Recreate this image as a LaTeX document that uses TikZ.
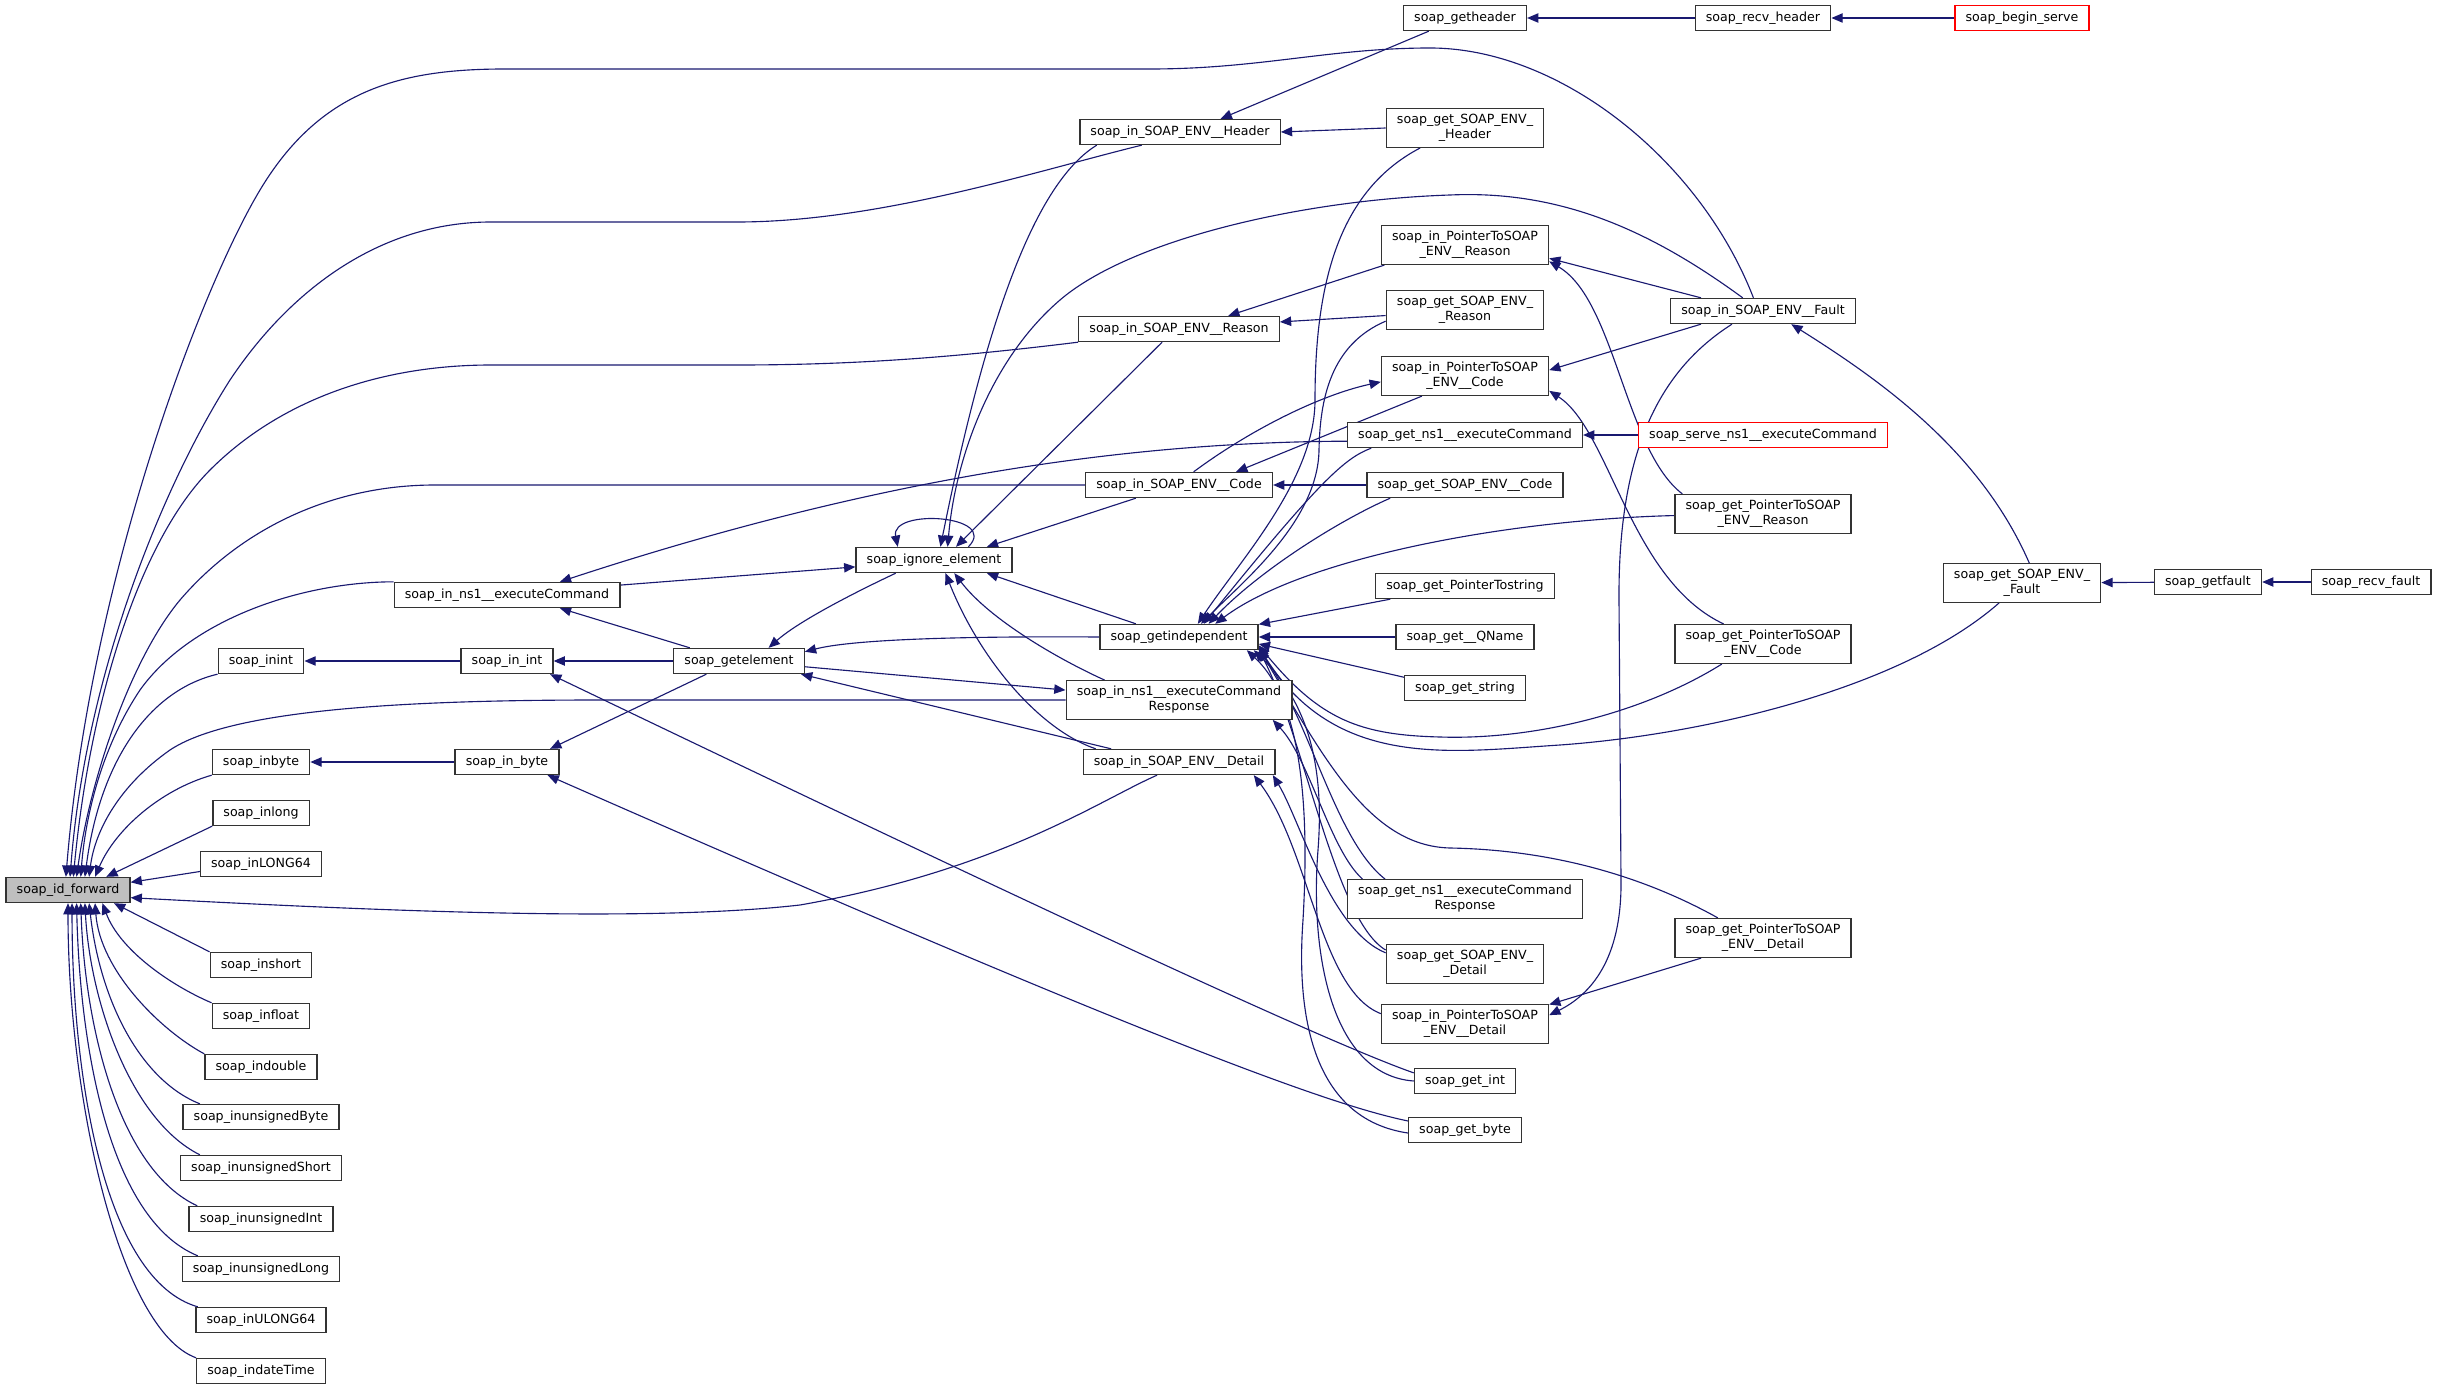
\documentclass[tikz,border=0pt]{standalone}
\usepackage{fontspec}
\setmainfont{DejaVu Sans}
\usepackage{xcolor}
\usepackage{tikz}
\usetikzlibrary{arrows.meta,backgrounds}

\definecolor{edgeblue}{HTML}{191970}
\definecolor{rootgray}{HTML}{BFBFBF}
\definecolor{extred}{HTML}{FF0000}

\begin{document}
\begin{tikzpicture}[x=0.8pt, y=-0.8pt,
  fn/.style={draw=black!80, line width=1.1pt, fill=white, inner xsep=8.5pt,
    inner ysep=4.5pt, minimum height=20pt, align=center,
    font=\fontsize{10.1}{12}\selectfont},
  fnroot/.style={fn, fill=rootgray},
  fnext/.style={fn, draw=extred},
  call/.style={draw=edgeblue, line width=0.9pt, -{Triangle[length=9pt,width=7.5pt]}}]
% Coordinate model: pixels of the graph, x to the right, y downwards.
\useasboundingbox (0,0) rectangle (2439,1389);

% --- Root and its direct callers ---
\node[fnroot] (idfwd) at (68,890) {soap\_id\_forward};
\node[fn] (inint) at (261,661) {soap\_inint};
\node[fn] (inbyte) at (261,762) {soap\_inbyte};
\node[fn] (inlong) at (261,813) {soap\_inlong};
\node[fn] (inLONG64) at (261,864) {soap\_inLONG64};
\node[fn] (inshort) at (261,965) {soap\_inshort};
\node[fn] (infloat) at (261,1016) {soap\_infloat};
\node[fn] (indouble) at (261,1067) {soap\_indouble};
\node[fn] (inuByte) at (261,1117) {soap\_inunsignedByte};
\node[fn] (inuShort) at (261,1168) {soap\_inunsignedShort};
\node[fn] (inuInt) at (261,1219) {soap\_inunsignedInt};
\node[fn] (inuLong) at (261,1269) {soap\_inunsignedLong};
\node[fn] (inULONG64) at (261,1320) {soap\_inULONG64};
\node[fn] (indateTime) at (261,1371) {soap\_indateTime};

% --- Second and third rank ---
\node[fn] (inns1) at (507,595) {soap\_in\_ns1\_\_executeCommand};
\node[fn] (inintB) at (507,661) {soap\_in\_int};
\node[fn] (inbyteB) at (507,762) {soap\_in\_byte};
\node[fn] (getelem) at (739,661) {soap\_getelement};
\node[fn] (ignore) at (934,560) {soap\_ignore\_element};

% --- soap_in_* column ---
\node[fn] (inHeader) at (1180,132) {soap\_in\_SOAP\_ENV\_\_Header};
\node[fn] (inReason) at (1179,329) {soap\_in\_SOAP\_ENV\_\_Reason};
\node[fn] (inCode) at (1179,485) {soap\_in\_SOAP\_ENV\_\_Code};
\node[fn] (getindep) at (1179,637) {soap\_getindependent};
\node[fn] (inResp) at (1179,700) {soap\_in\_ns1\_\_executeCommand\\Response};
\node[fn] (inDetail) at (1179,762) {soap\_in\_SOAP\_ENV\_\_Detail};

% --- soap_get_* column ---
\node[fn] (getheader) at (1465,18) {soap\_getheader};
\node[fn] (getHeader) at (1465,128) {soap\_get\_SOAP\_ENV\_\\\_Header};
\node[fn] (inPtrReason) at (1465,245) {soap\_in\_PointerToSOAP\\\_ENV\_\_Reason};
\node[fn] (getReason) at (1465,310) {soap\_get\_SOAP\_ENV\_\\\_Reason};
\node[fn] (inPtrCode) at (1465,376) {soap\_in\_PointerToSOAP\\\_ENV\_\_Code};
\node[fn] (getns1) at (1465,435) {soap\_get\_ns1\_\_executeCommand};
\node[fn] (getCode) at (1465,485) {soap\_get\_SOAP\_ENV\_\_Code};
\node[fn] (getPtrStr) at (1465,586) {soap\_get\_PointerTostring};
\node[fn] (getQName) at (1465,637) {soap\_get\_\_QName};
\node[fn] (getstring) at (1465,688) {soap\_get\_string};
\node[fn] (getResp) at (1465,899) {soap\_get\_ns1\_\_executeCommand\\Response};
\node[fn] (getDetail) at (1465,964) {soap\_get\_SOAP\_ENV\_\\\_Detail};
\node[fn] (inPtrDetail) at (1465,1024) {soap\_in\_PointerToSOAP\\\_ENV\_\_Detail};
\node[fn] (getint) at (1465,1081) {soap\_get\_int};
\node[fn] (getbyte) at (1465,1130) {soap\_get\_byte};

% --- right part ---
\node[fn] (recvheader) at (1763,18) {soap\_recv\_header};
\node[fn] (inFault) at (1763,311) {soap\_in\_SOAP\_ENV\_\_Fault};
\node[fnext] (serve) at (1763,435) {soap\_serve\_ns1\_\_executeCommand};
\node[fn] (getPtrReason) at (1763,514) {soap\_get\_PointerToSOAP\\\_ENV\_\_Reason};
\node[fn] (getPtrCode) at (1763,644) {soap\_get\_PointerToSOAP\\\_ENV\_\_Code};
\node[fn] (getPtrDetail) at (1763,938) {soap\_get\_PointerToSOAP\\\_ENV\_\_Detail};
\node[fnext] (beginserve) at (2022,18) {soap\_begin\_serve};
\node[fn] (getFault) at (2022,583) {soap\_get\_SOAP\_ENV\_\\\_Fault};
\node[fn] (getfault) at (2208,582) {soap\_getfault};
\node[fn] (recvfault) at (2371,582) {soap\_recv\_fault};

\begin{scope}[on background layer]
% --- Calls into soap_id_forward, from above ---
\draw[call] (inFault.126) .. controls (1700,160) and (1560,48) .. (1430,48)
  .. controls (1330,48) and (1260,69) .. (1150,69) -- (505,69)
  .. controls (400,69) and (320,90) .. (260,190)
  .. controls (200,290) and (90,580) .. (idfwd.99);
\draw[call] (inHeader.199) .. controls (1040,170) and (880,222) .. (737,222) -- (491,222)
  .. controls (380,222) and (290,290) .. (230,380)
  .. controls (160,490) and (85,680) .. (idfwd.81);
\draw[call] (inReason.south west) .. controls (950,358) and (850,365) .. (737,365) -- (491,365)
  .. controls (380,365) and (280,400) .. (210,470)
  .. controls (140,540) and (90,700) .. (idfwd.68);
\draw[call] (inCode.west) -- (435,485) .. controls (330,485) and (240,530) .. (180,600)
  .. controls (130,660) and (90,780) .. (idfwd.57);
\draw[call] (inns1.north west) .. controls (300,582) and (190,620) .. (140,690)
  .. controls (100,750) and (85,820) .. (idfwd.46);
\draw[call] (inint.south west) .. controls (150,690) and (100,760) .. (idfwd.38);
\draw[call] (inResp.west) -- (600,700) .. controls (400,700) and (230,710) .. (170,750)
  .. controls (120,785) and (95,830) .. (idfwd.32);
\draw[call] (inbyte.south west) .. controls (160,790) and (115,830) .. (idfwd.26);
\draw[call] (inlong.south west) -- (idfwd.19);
\draw[call] (inLONG64.187) -- (idfwd.7);
\draw[call] (inDetail.211) .. controls (1100,800) and (1000,870) .. (800,905)
  .. controls (650,922) and (400,912) .. (idfwd.353);

% --- Calls into soap_id_forward, from below ---
\draw[call] (inshort.north west) -- (idfwd.344);
\draw[call] (infloat.north west) .. controls (170,985) and (120,950) .. (idfwd.339);
\draw[call] (indouble.north west) .. controls (160,1030) and (100,970) .. (idfwd.334);
\draw[call] ([xshift=14pt]inuByte.north west) .. controls (140,1080) and (100,1000) .. (idfwd.328);
\draw[call] ([xshift=16pt]inuShort.north west) .. controls (130,1120) and (90,1000) .. (idfwd.322);
\draw[call] ([xshift=7pt]inuInt.north west) .. controls (120,1170) and (85,1030) .. (idfwd.314);
\draw[call] ([xshift=13pt]inuLong.north west) .. controls (110,1220) and (80,1050) .. (idfwd.303);
\draw[call] ([xshift=2pt]inULONG64.north west) .. controls (105,1280) and (72,1080) .. (idfwd.287);
\draw[call] (indateTime.north west) .. controls (120,1330) and (68,1100) .. (idfwd.270);

% --- soap_in_int, soap_in_byte, soap_getelement ---
\draw[call] (inintB) -- (inint);
\draw[call] (inbyteB) -- (inbyte);
\draw[call] (getelem) -- (inintB);
\draw[call] (getelem.165) -- (inns1.346);
\draw[call] (getelem.202) -- (inbyteB.17);
\draw[call] (getelem.355) -- (inResp.175);
\draw[call] (getint.171) .. controls (1320,1040) and (1000,890) .. (inintB.343);
\draw[call] (getbyte.171) .. controls (1330,1105) and (1150,1040) .. (inbyteB.342);

% --- soap_ignore_element ---
\draw[call] (inns1.5) -- (ignore.185);
\draw[call] (ignore.21) .. controls (1000,515) and (890,508) .. (ignore.160);
\draw[call] (inHeader.189) .. controls (1040,180) and (990,300) .. (ignore.64);
\draw[call] (inFault.147) .. controls (1650,230) and (1560,190) .. (1450,195)
  .. controls (1300,200) and (1130,240) .. (1060,300)
  .. controls (990,360) and (955,460) .. (ignore.44);
\draw[call] (inReason.218) -- (ignore.31);
\draw[call] (inCode.197) -- (ignore.14);
\draw[call] (getindep.163) -- (ignore.346);
\draw[call] (inResp.165) .. controls (1060,660) and (990,620) .. (ignore.327);
\draw[call] (inDetail.171) .. controls (1040,730) and (980,660) .. (ignore.311);

% --- callers of soap_getelement ---
\draw[call] (ignore.199) .. controls (860,590) and (800,620) .. (getelem.24);
\draw[call] (getindep.west) .. controls (950,636) and (850,640) .. (getelem.8);
\draw[call] (inDetail.169) -- (getelem.348);

% --- Header chain ---
\draw[call] (getheader.200) -- (inHeader.18);
\draw[call] (getHeader.west) -- (inHeader.east);
\draw[call] (recvheader) -- (getheader);
\draw[call] (beginserve) -- (recvheader);

% --- Reason and Code ---
\draw[call] (inPtrReason.194) -- (inReason.15);
\draw[call] (getReason.184) -- (inReason.4);
\draw[call] (inFault.168) -- (inPtrReason.351);
\draw[call] (getPtrReason.166) .. controls (1625,450) and (1615,300) .. (inPtrReason.349);
\draw[call] (inPtrCode.205) -- (inCode.13);
\draw[call] (inCode.42) .. controls (1250,430) and (1320,395) .. (inPtrCode.184);
\draw[call] (getCode) -- (inCode);
\draw[call] (inFault.192) -- (inPtrCode.4);
\draw[call] (getPtrCode.153) .. controls (1630,580) and (1610,430) .. (inPtrCode.350);

% --- executeCommand, Fault, Detail ---
\draw[call] (getns1.183) .. controls (1150,442) and (900,470) .. (inns1.14);
\draw[call] (serve) -- (getns1);
\draw[call] (getFault.70) .. controls (1980,450) and (1880,380) .. (inFault.335);
\draw[call] (getfault) -- (getFault);
\draw[call] (recvfault) -- (getfault);
\draw[call] (getPtrDetail.198) -- (inPtrDetail.13);
\draw[call] (inFault.203) .. controls (1660,370) and (1618,450) .. (1619,600) -- (1621,880)
  .. controls (1622,960) and (1590,995) .. (inPtrDetail.6);
\draw[call] (getDetail.172) .. controls (1330,930) and (1300,820) .. (inDetail.352);
\draw[call] (inPtrDetail.173) .. controls (1320,990) and (1310,850) .. (inDetail.350);
\draw[call] (getResp.169) .. controls (1330,850) and (1310,760) .. (inResp.348);

% --- callers of soap_getindependent ---
\draw[call] (getHeader.204) .. controls (1340,190) and (1315,280) .. (1315,400)
  .. controls (1315,480) and (1240,560) .. (getindep.35);
\draw[call] (getReason.188) .. controls (1330,345) and (1320,400) .. (1319,450)
  .. controls (1318,520) and (1245,580) .. (getindep.31);
\draw[call] (getns1.188) .. controls (1345,458) and (1320,480) .. (getindep.28);
\draw[call] (getCode.190) .. controls (1340,520) and (1260,570) .. (getindep.24);
\draw[call] (getPtrReason.181) .. controls (1500,520) and (1300,560) .. (getindep.20);
\draw[call] (getPtrStr.190) -- (getindep.9);
\draw[call] (getQName) -- (getindep);
\draw[call] (getstring.170) -- (getindep.355);
\draw[call] (getPtrCode.206) .. controls (1640,715) and (1530,740) .. (1440,737)
  .. controls (1360,735) and (1320,720) .. (getindep.354);
\draw[call] (getFault.221) .. controls (1900,690) and (1700,735) .. (1560,745)
  .. controls (1450,752) and (1335,770) .. (getindep.353);
\draw[call] (getPtrDetail.156) .. controls (1650,880) and (1560,850) .. (1450,848)
  .. controls (1370,846) and (1325,760) .. (getindep.352);
\draw[call] (getResp.166) .. controls (1335,840) and (1310,720) .. (getindep.351);
\draw[call] (getDetail.170) .. controls (1335,920) and (1305,740) .. (getindep.351);
\draw[call] (getint.180) .. controls (1330,1075) and (1310,950) .. (1318,850)
  .. controls (1325,760) and (1305,700) .. (getindep.350);
\draw[call] (getbyte.183) .. controls (1320,1120) and (1295,1030) .. (1303,920)
  .. controls (1310,800) and (1300,700) .. (getindep.349);
\end{scope}
\end{tikzpicture}
\end{document}
